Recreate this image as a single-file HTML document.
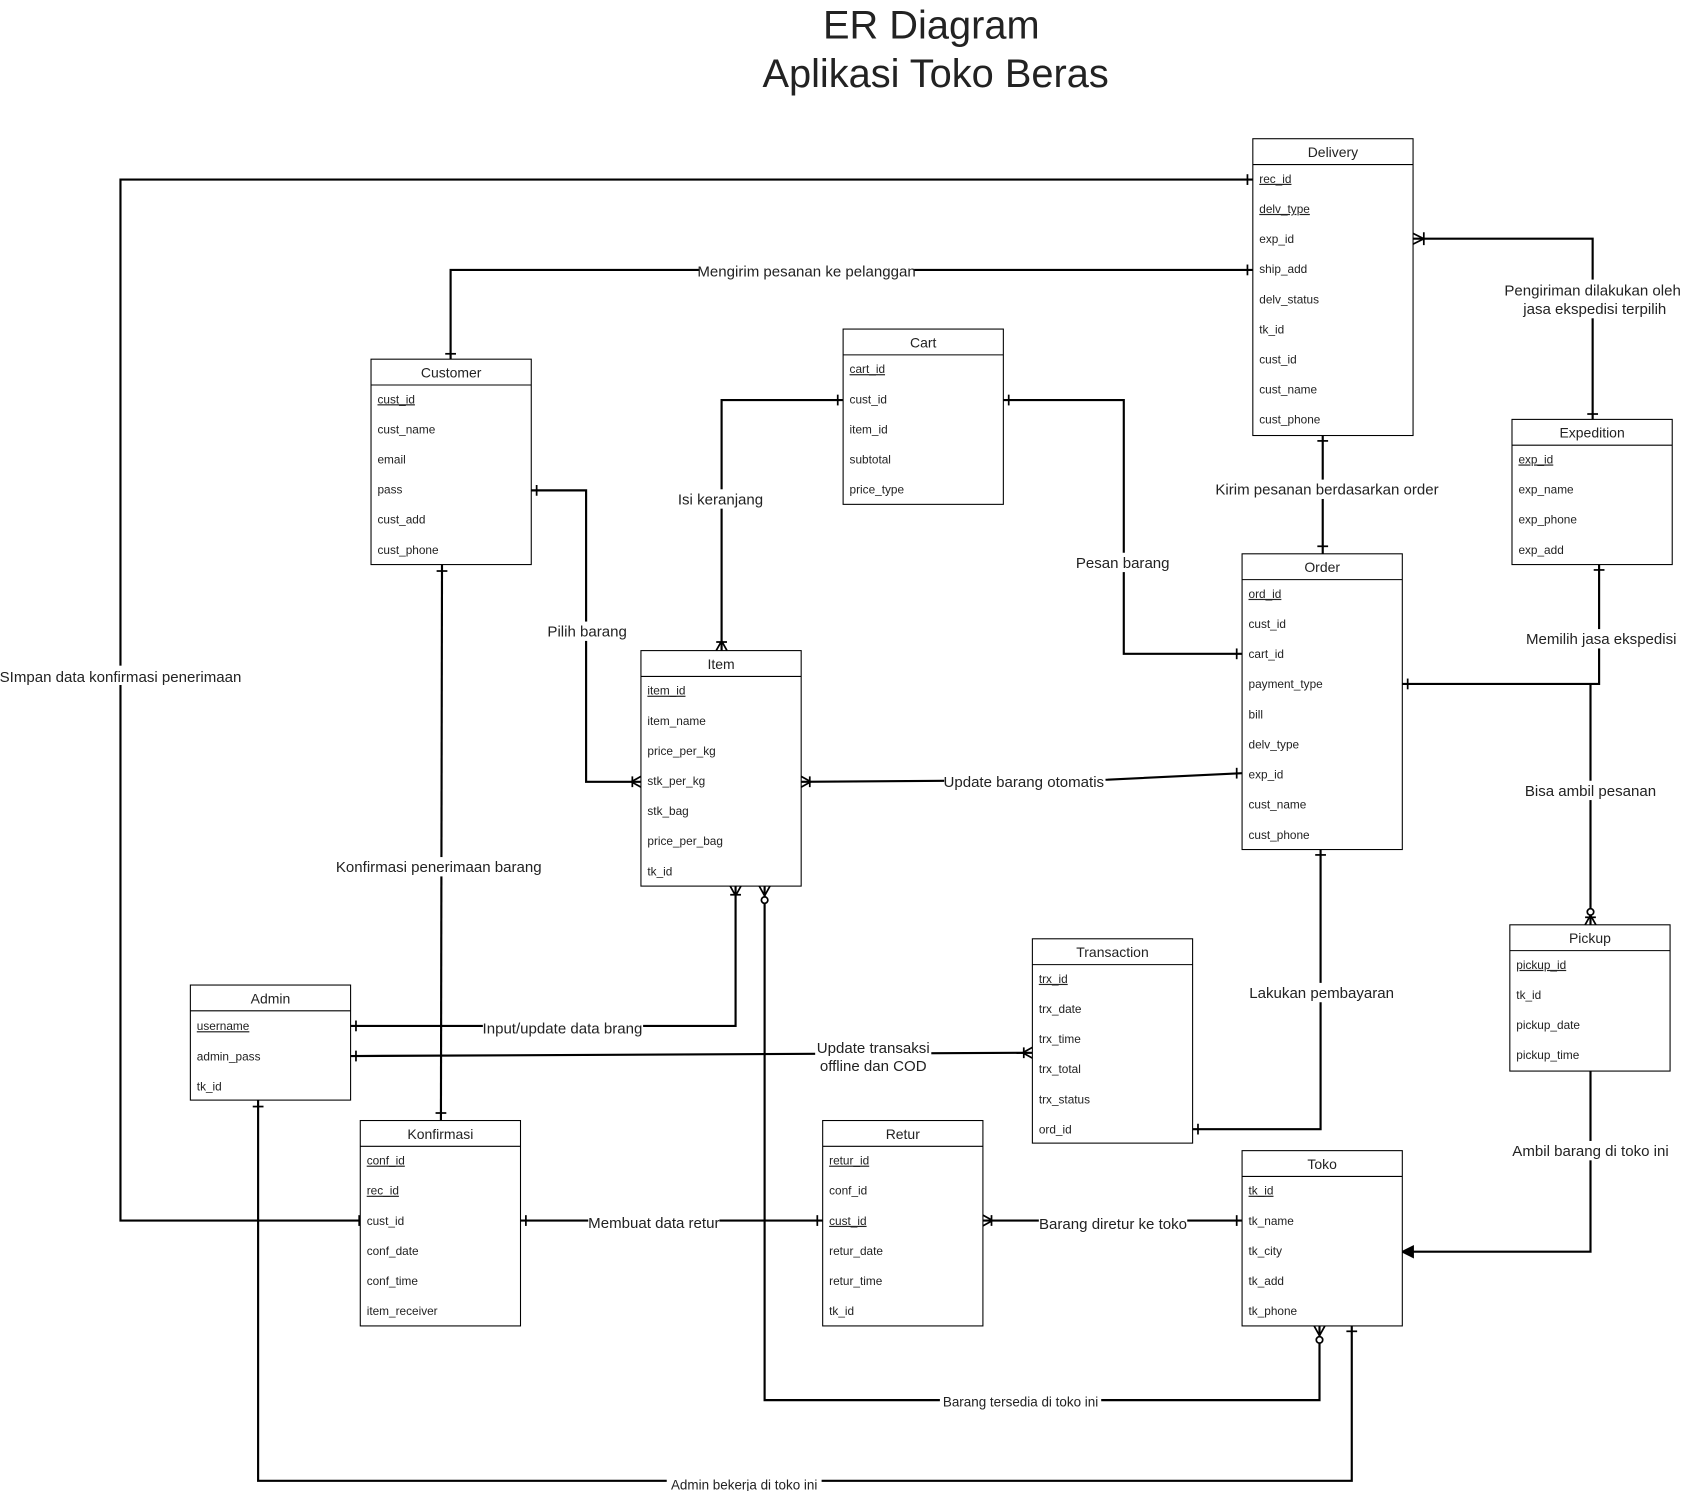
<!DOCTYPE html>
<html><head><meta charset="utf-8"><style>
html,body{margin:0;padding:0;background:#fff}
svg{display:block}
text{font-family:"Liberation Sans",Arial,sans-serif;fill:#222}
.a{font-size:11px}
.h{font-size:13px;text-anchor:middle}
.u{text-decoration:underline}
.l{font-size:14px;text-anchor:middle}
.c{fill:none;stroke:#000;stroke-width:2}
.m{fill:none;stroke:#000;stroke-width:1.6}
.e{fill:#fff;stroke:#000;stroke-width:1}
</style></head><body>
<svg width="1683" height="1491" viewBox="0 0 1565 1386.5" xmlns="http://www.w3.org/2000/svg">
<text x="866" y="36" style="font-size:37px;text-anchor:middle">ER Diagram</text>
<text x="870" y="81" style="font-size:37px;text-anchor:middle">Aplikasi Toko Beras</text>

<!-- connectors -->
<polyline class="c" points="335,1135 112,1135 112,167 1165,167"/>
<polyline class="c" points="419,334 419,251 1165,251"/>
<polyline class="c" points="1481,390 1481,222 1314,222"/>
<line class="c" x1="1230" y1="405" x2="1230" y2="515"/>
<polyline class="c" points="784,372 671,372 671,605"/>
<polyline class="c" points="933,372 1045,372 1045,608 1155,608"/>
<polyline class="c" points="494,456 545,456 545,727 596,727"/>
<polyline class="c" points="745,727 1030,725 1155,719"/>
<polyline class="c" points="1304,636 1487,636 1487,525"/>
<line class="c" x1="1479" y1="860" x2="1479" y2="636"/>
<polyline class="c" points="1479,996 1479,1164 1304,1164"/>
<line class="c" x1="411" y1="525" x2="410" y2="1042"/>
<polyline class="c" points="326,954 684,954 684,824"/>
<line class="c" x1="326" y1="982" x2="960" y2="979"/>
<polyline class="c" points="1109,1050 1228,1050 1228,790"/>
<line class="c" x1="484" y1="1135" x2="765" y2="1135"/>
<line class="c" x1="914" y1="1135" x2="1155" y2="1135"/>
<polyline class="c" points="711,824 711,1302 1227,1302 1227,1233"/>
<polyline class="c" points="240,1023 240,1377 1257,1377 1257,1233"/>

<!-- markers -->
<g class="m">
<line x1="334" y1="1130" x2="334" y2="1140"/>
<line x1="1160" y1="162" x2="1160" y2="172"/>
<line x1="1160" y1="246" x2="1160" y2="256"/>
<line x1="414" y1="329" x2="424" y2="329"/>
<line x1="1476" y1="385" x2="1486" y2="385"/>
<path d="M1314,217 L1324,222 L1314,227 M1324,216 L1324,228"/>
<line x1="1225" y1="410" x2="1235" y2="410"/>
<line x1="1225" y1="508" x2="1235" y2="508"/>
<line x1="779" y1="367" x2="779" y2="377"/>
<path d="M666,605 L671,596 L676,605 M666,597 L676,597"/>
<line x1="938" y1="367" x2="938" y2="377"/>
<line x1="1150" y1="603" x2="1150" y2="613"/>
<line x1="499" y1="451" x2="499" y2="461"/>
<path d="M596,722 L587,727 L596,732 M588,722 L588,732"/>
<path d="M745,722 L754,727 L745,732 M753,722 L753,732"/>
<line x1="1150" y1="714" x2="1150" y2="724"/>
<line x1="1309" y1="631" x2="1309" y2="641"/>
<line x1="1482" y1="530" x2="1492" y2="530"/>
<path d="M1474,860 L1479,851 L1484,860"/><circle cx="1479" cy="848" r="3" fill="#fff"/>
<line x1="1474" y1="853" x2="1484" y2="853"/>
<path d="M1314,1159 L1304,1164 L1314,1169 Z" fill="#000"/>
<line x1="406" y1="531" x2="416" y2="531"/>
<line x1="405" y1="1035" x2="415" y2="1035"/>
<line x1="331" y1="949" x2="331" y2="959"/>
<path d="M679,824 L684,833 L689,824 M679,832 L689,832"/>
<path d="M706,824 L711,833 L716,824"/><circle cx="711" cy="837" r="3" fill="#fff"/>
<line x1="331" y1="977" x2="331" y2="987"/>
<path d="M960,974 L951,979 L960,984 M952,974 L952,984"/>
<line x1="1114" y1="1045" x2="1114" y2="1055"/>
<line x1="1223" y1="795" x2="1233" y2="795"/>
<line x1="489" y1="1130" x2="489" y2="1140"/>
<line x1="760" y1="1130" x2="760" y2="1140"/>
<path d="M914,1130 L923,1135 L914,1140 M922,1130 L922,1140"/>
<line x1="1150" y1="1130" x2="1150" y2="1140"/>
<path d="M1222,1233 L1227,1242 L1232,1233"/><circle cx="1227" cy="1246" r="3" fill="#fff"/>
<line x1="235" y1="1029" x2="245" y2="1029"/>
<line x1="1252" y1="1238" x2="1262" y2="1238"/>
</g>

<!-- labels -->
<g>
<rect x="0" y="619" width="226" height="18" fill="#fff"/><text class="l" x="112" y="634">SImpan data konfirmasi penerimaan</text>
<rect x="650" y="243" width="200" height="18" fill="#fff"/><text class="l" x="750" y="257">Mengirim pesanan ke pelanggan</text>
<rect x="1398" y="260" width="166" height="36" fill="#fff"/><text class="l" x="1481" y="275">Pengiriman dilakukan oleh</text><text class="l" x="1483" y="292">jasa ekspedisi terpilih</text>
<rect x="1130" y="446" width="208" height="18" fill="#fff"/><text class="l" x="1234" y="460">Kirim pesanan berdasarkan order</text>
<rect x="630" y="455" width="82" height="18" fill="#fff"/><text class="l" x="670" y="469">Isi keranjang</text>
<rect x="1000" y="514" width="88" height="18" fill="#fff"/><text class="l" x="1044" y="528">Pesan barang</text>
<rect x="508" y="578" width="76" height="18" fill="#fff"/><text class="l" x="546" y="592">Pilih barang</text>
<rect x="878" y="718" width="150" height="18" fill="#fff"/><text class="l" x="952" y="732">Update barang otomatis</text>
<rect x="1418" y="585" width="142" height="18" fill="#fff"/><text class="l" x="1489" y="599">Memilih jasa ekspedisi</text>
<rect x="1418" y="726" width="124" height="18" fill="#fff"/><text class="l" x="1479" y="740">Bisa ambil pesanan</text>
<rect x="1405" y="1061" width="148" height="18" fill="#fff"/><text class="l" x="1479" y="1075">Ambil barang di toko ini</text>
<rect x="312" y="797" width="194" height="18" fill="#fff"/><text class="l" x="408" y="811">Konfirmasi penerimaan barang</text>
<rect x="449" y="947" width="149" height="18" fill="#fff"/><text class="l" x="523" y="961">Input/update data brang</text>
<rect x="758" y="965" width="108" height="36" fill="#fff"/><text class="l" x="812" y="979">Update transaksi</text><text class="l" x="812" y="996">offline dan COD</text>
<rect x="1161" y="914" width="136" height="18" fill="#fff"/><text class="l" x="1229" y="928">Lakukan pembayaran</text>
<rect x="547" y="1128" width="122" height="18" fill="#fff"/><text class="l" x="608" y="1142">Membuat data retur</text>
<rect x="966" y="1129" width="138" height="18" fill="#fff"/><text class="l" x="1035" y="1143">Barang diretur ke toko</text>
<rect x="874" y="1296" width="150" height="16" fill="#fff"/><text class="l" x="949" y="1308" style="font-size:12.5px">Barang tersedia di toko ini</text>
<rect x="620" y="1372" width="144" height="16" fill="#fff"/><text class="l" x="692" y="1385" style="font-size:12.5px">Admin bekerja di toko ini</text>
</g>

<!-- entities -->
<g>
<rect class="e" x="1165" y="129" width="149" height="276"/><line class="e" x1="1165" y1="153" x2="1314" y2="153"/>
<text class="h" x="1239.5" y="146">Delivery</text>
<text class="a u" x="1171" y="170">rec_id</text><text class="a u" x="1171" y="198">delv_type</text><text class="a" x="1171" y="226">exp_id</text><text class="a" x="1171" y="254">ship_add</text><text class="a" x="1171" y="282">delv_status</text><text class="a" x="1171" y="310">tk_id</text><text class="a" x="1171" y="338">cust_id</text><text class="a" x="1171" y="366">cust_name</text><text class="a" x="1171" y="394">cust_phone</text>

<rect class="e" x="345" y="334" width="149" height="191"/><line class="e" x1="345" y1="358" x2="494" y2="358"/>
<text class="h" x="419.5" y="351">Customer</text>
<text class="a u" x="351" y="375">cust_id</text><text class="a" x="351" y="403">cust_name</text><text class="a" x="351" y="431">email</text><text class="a" x="351" y="459">pass</text><text class="a" x="351" y="487">cust_add</text><text class="a" x="351" y="515">cust_phone</text>

<rect class="e" x="784" y="306" width="149" height="163"/><line class="e" x1="784" y1="330" x2="933" y2="330"/>
<text class="h" x="858.5" y="323">Cart</text>
<text class="a u" x="790" y="347">cart_id</text><text class="a" x="790" y="375">cust_id</text><text class="a" x="790" y="403">item_id</text><text class="a" x="790" y="431">subtotal</text><text class="a" x="790" y="459">price_type</text>

<rect class="e" x="1406" y="390" width="149" height="135"/><line class="e" x1="1406" y1="414" x2="1555" y2="414"/>
<text class="h" x="1480.5" y="407">Expedition</text>
<text class="a u" x="1412" y="431">exp_id</text><text class="a" x="1412" y="459">exp_name</text><text class="a" x="1412" y="487">exp_phone</text><text class="a" x="1412" y="515">exp_add</text>

<rect class="e" x="1155" y="515" width="149" height="275"/><line class="e" x1="1155" y1="539" x2="1304" y2="539"/>
<text class="h" x="1229.5" y="532">Order</text>
<text class="a u" x="1161" y="556">ord_id</text><text class="a" x="1161" y="584">cust_id</text><text class="a" x="1161" y="612">cart_id</text><text class="a" x="1161" y="640">payment_type</text><text class="a" x="1161" y="668">bill</text><text class="a" x="1161" y="696">delv_type</text><text class="a" x="1161" y="724">exp_id</text><text class="a" x="1161" y="752">cust_name</text><text class="a" x="1161" y="780">cust_phone</text>

<rect class="e" x="596" y="605" width="149" height="219"/><line class="e" x1="596" y1="629" x2="745" y2="629"/>
<text class="h" x="670.5" y="622">Item</text>
<text class="a u" x="602" y="646">item_id</text><text class="a" x="602" y="674">item_name</text><text class="a" x="602" y="702">price_per_kg</text><text class="a" x="602" y="730">stk_per_kg</text><text class="a" x="602" y="758">stk_bag</text><text class="a" x="602" y="786">price_per_bag</text><text class="a" x="602" y="814">tk_id</text>

<rect class="e" x="177" y="916" width="149" height="107"/><line class="e" x1="177" y1="940" x2="326" y2="940"/>
<text class="h" x="251.5" y="933">Admin</text>
<text class="a u" x="183" y="958">username</text><text class="a" x="183" y="986">admin_pass</text><text class="a" x="183" y="1014">tk_id</text>

<rect class="e" x="960" y="873" width="149" height="190"/><line class="e" x1="960" y1="897" x2="1109" y2="897"/>
<text class="h" x="1034.5" y="890">Transaction</text>
<text class="a u" x="966" y="914">trx_id</text><text class="a" x="966" y="942">trx_date</text><text class="a" x="966" y="970">trx_time</text><text class="a" x="966" y="998">trx_total</text><text class="a" x="966" y="1026">trx_status</text><text class="a" x="966" y="1054">ord_id</text>

<rect class="e" x="1404" y="860" width="149" height="136"/><line class="e" x1="1404" y1="884" x2="1553" y2="884"/>
<text class="h" x="1478.5" y="877">Pickup</text>
<text class="a u" x="1410" y="901">pickup_id</text><text class="a" x="1410" y="929">tk_id</text><text class="a" x="1410" y="957">pickup_date</text><text class="a" x="1410" y="985">pickup_time</text>

<rect class="e" x="335" y="1042" width="149" height="191"/><line class="e" x1="335" y1="1066" x2="484" y2="1066"/>
<text class="h" x="409.5" y="1059">Konfirmasi</text>
<text class="a u" x="341" y="1083">conf_id</text><text class="a u" x="341" y="1111">rec_id</text><text class="a" x="341" y="1139">cust_id</text><text class="a" x="341" y="1167">conf_date</text><text class="a" x="341" y="1195">conf_time</text><text class="a" x="341" y="1223">item_receiver</text>

<rect class="e" x="765" y="1042" width="149" height="191"/><line class="e" x1="765" y1="1066" x2="914" y2="1066"/>
<text class="h" x="839.5" y="1059">Retur</text>
<text class="a u" x="771" y="1083">retur_id</text><text class="a" x="771" y="1111">conf_id</text><text class="a u" x="771" y="1139">cust_id</text><text class="a" x="771" y="1167">retur_date</text><text class="a" x="771" y="1195">retur_time</text><text class="a" x="771" y="1223">tk_id</text>

<rect class="e" x="1155" y="1070" width="149" height="163"/><line class="e" x1="1155" y1="1094" x2="1304" y2="1094"/>
<text class="h" x="1229.5" y="1087">Toko</text>
<text class="a u" x="1161" y="1111">tk_id</text><text class="a" x="1161" y="1139">tk_name</text><text class="a" x="1161" y="1167">tk_city</text><text class="a" x="1161" y="1195">tk_add</text><text class="a" x="1161" y="1223">tk_phone</text>
</g>
</svg>
</body></html>
